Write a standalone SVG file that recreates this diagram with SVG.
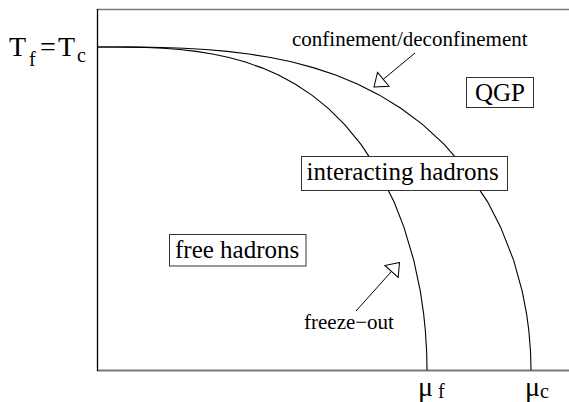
<svg xmlns="http://www.w3.org/2000/svg" width="569" height="402" viewBox="0 0 569 402">
<defs>
<marker id="tri" viewBox="0 0 15 22" refX="13" refY="11" markerWidth="15" markerHeight="22" markerUnits="userSpaceOnUse" orient="auto">
<path d="M13,11 L1,2 L1,20 Z" fill="#fff" stroke="#000" stroke-width="1"/>
</marker>
</defs>
<rect width="569" height="402" fill="#fff"/>
<g id="frame">
<line x1="97" y1="9.5" x2="569" y2="9.5" stroke="#777" stroke-width="1.5"/>
<line x1="97" y1="370.5" x2="569" y2="370.5" stroke="#777" stroke-width="1.8"/>
<line x1="97.5" y1="9" x2="97.5" y2="371" stroke="#000" stroke-width="1.3"/>
</g>
<g id="curves" fill="none" stroke="#000" stroke-width="1.1">
<polyline id="freeze-out-line" points="97,47 113.5,47.02 130,47.16 146.5,47.55 163,48.3 179.5,49.53 196,51.39 212.5,54 229,57.51 245.5,62.07 262,67.86 278.5,75.09 295,84 311.5,94.9 328,108.19 344.5,124.41 361,144.36 377.5,169.36 394,201.85 403.9,227.13 413.8,260.34 420.4,291.67 423.7,314.33 425.35,330.54 426.67,352.32 427,370"/>
<polyline id="confinement-line" points="97,47 118.7,47.02 140.4,47.16 162.1,47.55 183.8,48.3 205.5,49.53 227.2,51.39 248.9,54 270.6,57.51 292.3,62.07 314,67.86 335.7,75.09 357.4,84 379.1,94.9 400.8,108.19 422.5,124.41 444.2,144.36 465.9,169.36 487.6,201.85 500.62,227.13 513.64,260.34 522.32,291.67 526.66,314.33 528.83,330.54 530.57,352.32 531,370"/>
</g>
<g id="connectors" fill="none" stroke="#000" stroke-width="1">
<line x1="415" y1="53" x2="374" y2="87" marker-end="url(#tri)"/>
<line x1="356" y1="311" x2="399.5" y2="262.5" marker-end="url(#tri)"/>
</g>
<g id="axis-T">
<text font-family="Liberation Serif" font-size="28" x="9" y="56">T</text>
<text font-family="Liberation Serif" font-size="20" x="29" y="66">f</text>
<text font-family="Liberation Serif" font-size="28" x="40" y="56">=</text>
<text font-family="Liberation Serif" font-size="28" x="58" y="56">T</text>
<text font-family="Liberation Serif" font-size="20" x="77" y="62">c</text>
</g>
<g id="axis-mu-f">
<text font-family="Liberation Serif" font-size="28" x="418" y="396">&#956;</text>
<text font-family="Liberation Serif" font-size="20" x="438" y="398">f</text>
</g>
<g id="axis-mu-c">
<text font-family="Liberation Serif" font-size="28" x="525" y="396">&#956;</text>
<text font-family="Liberation Serif" font-size="20" x="540" y="398">c</text>
</g>
<g id="label-confinement">
<text font-family="Liberation Serif" font-size="21" x="292" y="46">confinement/deconfinement</text>
</g>
<g id="label-freeze-out">
<text font-family="Liberation Serif" font-size="21" x="304" y="329">freeze&#8722;out</text>
</g>
<g id="node-qgp">
<rect x="466.5" y="77.5" width="67" height="30" fill="#fff" stroke="#333" stroke-width="1"/>
<text font-family="Liberation Serif" font-size="25" x="475" y="101">QGP</text>
</g>
<g id="node-interacting">
<rect x="301.5" y="156.5" width="206" height="34" fill="#fff" stroke="#333" stroke-width="1"/>
<text font-family="Liberation Serif" font-size="25" x="306.5" y="180">interacting hadrons</text>
</g>
<g id="node-free">
<rect x="169.5" y="234.5" width="136.5" height="31.5" fill="#fff" stroke="#333" stroke-width="1"/>
<text font-family="Liberation Serif" font-size="25" x="175" y="258">free hadrons</text>
</g>
</svg>
